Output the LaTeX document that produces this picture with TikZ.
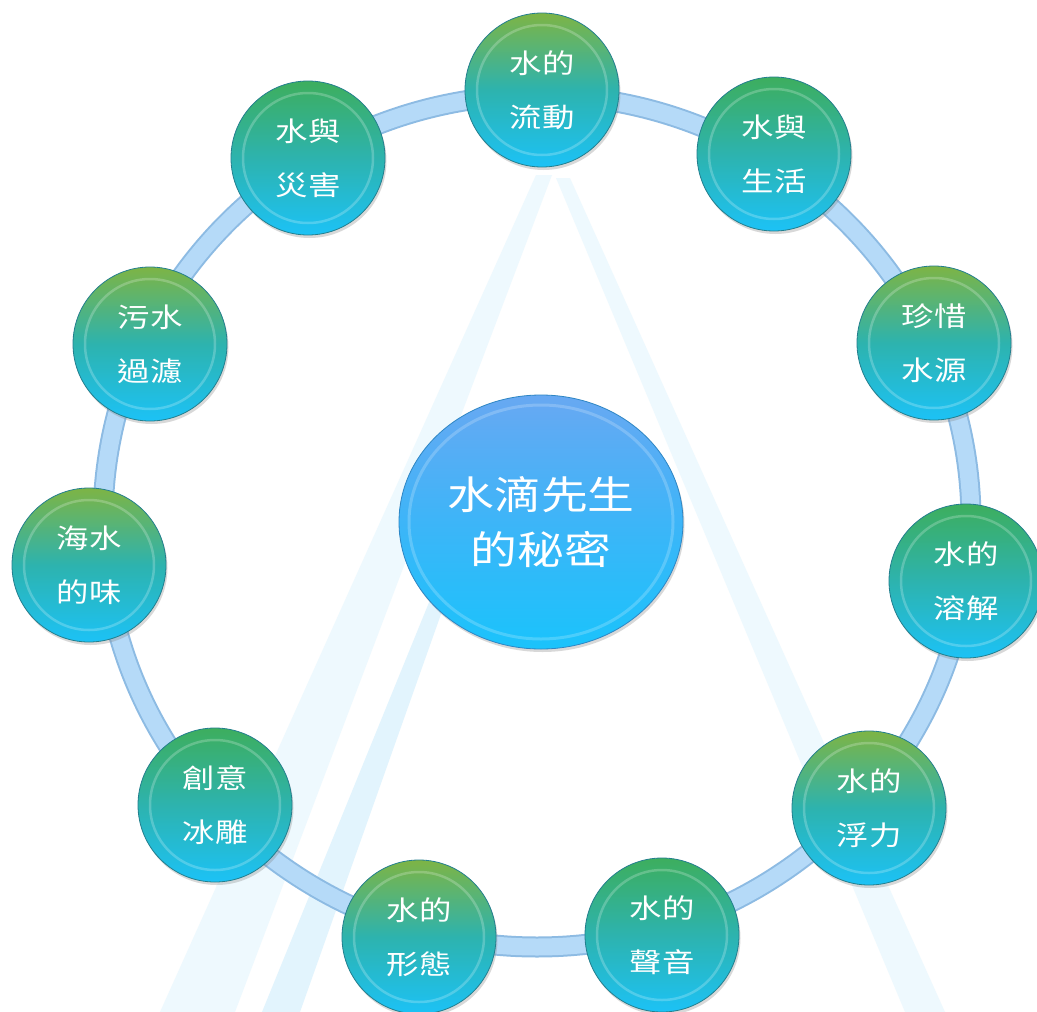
\documentclass[tikz,border=0pt]{standalone}
\usepackage{fontspec}
\usepackage{graphicx}
\newfontfamily\cjk{Noto Sans CJK TC}
\usetikzlibrary{shapes.geometric,shadows}
\definecolor{ringfill}{HTML}{B5DAF8}
\definecolor{ringedge}{HTML}{8DBBE3}
\definecolor{gyel}{HTML}{7DB445}
\definecolor{ggrn}{HTML}{3DAE5E}
\definecolor{teal1}{HTML}{2DB3AE}
\definecolor{cyan1}{HTML}{1CC2F6}
\definecolor{nodeedge}{HTML}{237F8E}
\definecolor{ctop}{HTML}{68A8F2}
\definecolor{cmid}{HTML}{3DB5F8}
\definecolor{cbot}{HTML}{1AC3FB}
\definecolor{cedge}{HTML}{2E86C4}
\definecolor{streakA}{HTML}{EEF9FE}
\definecolor{streakB}{HTML}{E2F4FD}
\newcommand\hx[1]{\scalebox{1.2}[1]{#1}}
\begin{document}
\begin{tikzpicture}[x=1pt,y=-1pt,
  topic/.style={circle, minimum size=154pt, inner sep=0pt, draw=nodeedge, line width=0.8pt,
    text=white, font=\cjk\fontsize{27}{54}\selectfont, align=center,
    drop shadow={shadow xshift=1.5pt, shadow yshift=-3pt, opacity=0.3},
    path picture={\draw[white, opacity=0.22, line width=2.5pt] (path picture bounding box.center) circle (65pt);}},
  ty/.style={topic, top color=gyel, bottom color=cyan1, middle color=teal1},
  tg/.style={topic, top color=ggrn, bottom color=cyan1, middle color=teal1},
  hub/.style={ellipse, minimum width=284pt, minimum height=254pt, inner sep=0pt, draw=cedge, line width=0.8pt,
    top color=ctop, bottom color=cbot, middle color=cmid,
    text=white, font=\cjk\fontsize{39}{55}\selectfont, align=center,
    drop shadow={shadow xshift=1.5pt, shadow yshift=-3pt, opacity=0.3},
    path picture={\draw[white, opacity=0.2, line width=3pt] (path picture bounding box.center) ellipse [x radius=132pt, y radius=117pt];}}
]
\fill[white] (0,0) rectangle (1037,1012);
\useasboundingbox (0,0) rectangle (1037,1012);
% faint background streaks
\fill[streakA] (536,175) -- (552,175) -- (235,1012) -- (160,1012) -- cycle;
\fill[streakB] (430,600) -- (446,600) -- (300,1012) -- (262,1012) -- cycle;
\fill[streakA] (556,178) -- (570,178) -- (945,1012) -- (905,1012) -- cycle;
% ring
\coordinate (ctr) at (537,521);
\draw[ringedge, line width=21pt] (ctr) ellipse [x radius=434pt, y radius=426pt];
\draw[ringfill, line width=17pt] (ctr) ellipse [x radius=434pt, y radius=426pt];
% nodes
\node[ty] (n1) at (542,90) {\hx{水的}\\\hx{流動}};
\node[tg] (n2) at (774,154) {\hx{水與}\\\hx{生活}};
\node[ty] (n3) at (934,343) {\hx{珍惜}\\\hx{水源}};
\node[tg] (n4) at (966,581) {\hx{水的}\\\hx{溶解}};
\node[ty] (n5) at (869,808) {\hx{水的}\\\hx{浮力}};
\node[tg] (n6) at (662,935) {\hx{水的}\\\hx{聲音}};
\node[ty] (n7) at (419,937) {\hx{水的}\\\hx{形態}};
\node[tg] (n8) at (215,805) {\hx{創意}\\\hx{冰雕}};
\node[ty] (n9) at (89,565) {\hx{海水}\\\hx{的味}};
\node[ty] (n10) at (150,344) {\hx{污水}\\\hx{過濾}};
\node[tg] (n11) at (308,158) {\hx{水與}\\\hx{災害}};
\node[hub] (hub) at (541,522) {\hx{水滴先生}\\\hx{的秘密}};
\end{tikzpicture}
\end{document}
